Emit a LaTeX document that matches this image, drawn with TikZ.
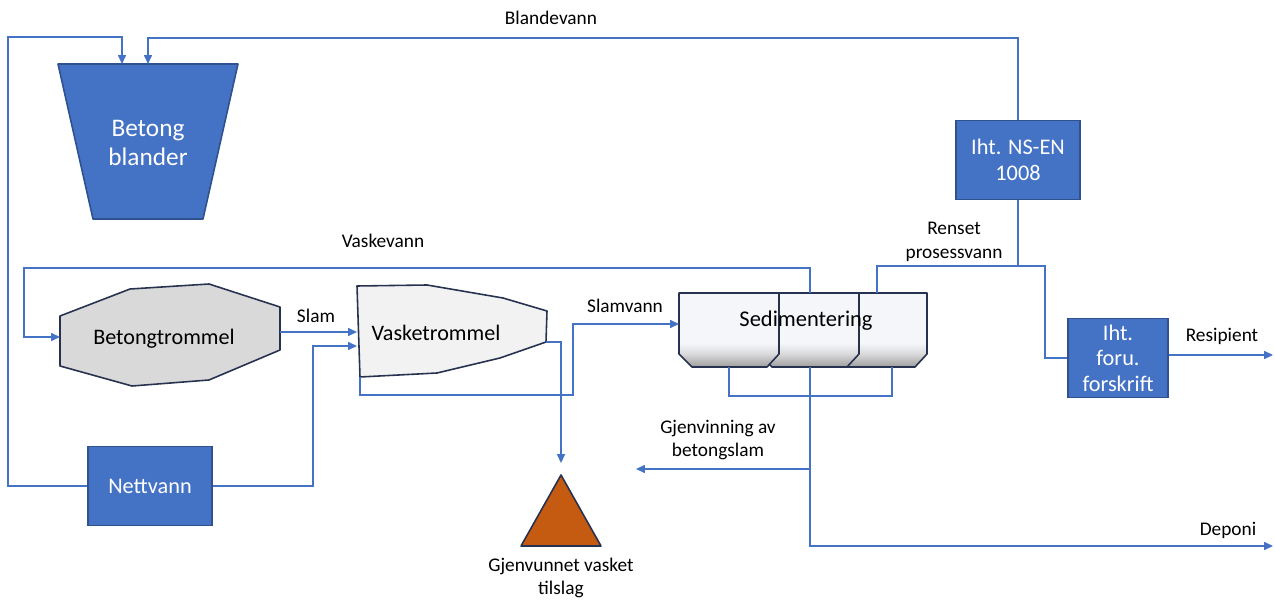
\documentclass[tikz,border=0pt]{standalone}
\usepackage{fontspec}
\setmainfont{Carlito}
\usetikzlibrary{arrows.meta}

\definecolor{flowblue}{HTML}{4472C4}
\definecolor{boxblue}{HTML}{4472C4}
\definecolor{edgeblue}{HTML}{2F528F}
\definecolor{darkedge}{HTML}{26324F}
\definecolor{drumgray}{HTML}{D9D9D9}
\definecolor{drumlight}{HTML}{F2F2F2}
\definecolor{rust}{HTML}{C55A11}
\definecolor{sedtop}{HTML}{F4F6FA}
\definecolor{sedmid}{HTML}{DADADC}
\definecolor{sedbot}{HTML}{9E9E9E}

% light tank with a grey band at the bottom
\pgfdeclareverticalshading{sedshade}{100bp}{color(0bp)=(sedbot); color(25bp)=(sedbot); color(34bp)=(sedmid); color(41bp)=(sedtop); color(100bp)=(sedtop)}

\tikzset{
  pipe/.style={draw=flowblue, line width=0.7pt},
  flow/.style={pipe, -{Triangle[length=5pt,width=4.5pt]}},
  bluebox/.style={draw=edgeblue, fill=boxblue, line width=0.9pt, text=white, align=center,
    inner sep=0pt, font=\fontsize{12.7}{14.6}\selectfont},
  lbl/.style={align=center, inner sep=0pt, font=\fontsize{11}{13.5}\selectfont},
  shapeline/.style={draw=darkedge, line width=0.9pt, line join=round},
}

\begin{document}
\begin{tikzpicture}[x=0.02cm, y=-0.02cm]
    \useasboundingbox (0,0) rectangle (1275,601);

    % Betong blander
    \draw[shapeline, draw=edgeblue, fill=boxblue] (58,64) -- (238,64) -- (203,219) -- (93,219) -- cycle;
    \node[text=white, align=center, inner sep=0pt, font=\fontsize{14.4}{17}\selectfont] (blander) at (148,143) {Betong\\blander};
    \coordinate (bl-in1) at (122,64);
    \coordinate (bl-in2) at (148,64);

    % Betongtrommel
    \draw[shapeline, fill=drumgray] (60,316) -- (130,289) -- (209,284) -- (280,307) -- (280,350) -- (209,380) -- (132,386) -- (60,366) -- cycle;
    \node[inner sep=0pt, font=\fontsize{12.6}{14}\selectfont] (btrommel) at (164,339) {Betongtrommel};
    \coordinate (bt-in) at (60,337);
    \coordinate (bt-out) at (280,332);

    % Vasketrommel
    \draw[shapeline, fill=drumlight] (357,286) -- (427,285) -- (503,298) -- (547,311) -- (546,342) -- (500,358) -- (437,373) -- (360,377) -- cycle;
    \node[inner sep=0pt, font=\fontsize{12.6}{14}\selectfont] (vtrommel) at (436,333) {Vasketrommel};
    \coordinate (vt-in1) at (357,332);
    \coordinate (vt-in2) at (357,346);
    \coordinate (vt-out) at (546,342);
    \coordinate (vt-bot) at (360,377);

    % Gjenvunnet tilslag
    \draw[shapeline, fill=rust] (561,475) -- (601,546) -- (521,546) -- cycle;
    \coordinate (tri-in) at (561,463);
    \node[lbl] (tilslag) at (561,578) {Gjenvunnet vasket\\tilslag};

    % Sedimentering, three tanks back to front
    \foreach \l in {827,759,679} {
      \draw[shapeline, shading=sedshade] (\l,293) -- ++(100,0) -- ++(0,61) -- ++(-12,13) -- ++(-75,0) -- ++(-13,-13) -- cycle;
    }
    \node[inner sep=0pt, font=\fontsize{12.8}{14}\selectfont] (sed) at (806,321) {Sedimentering};
    \coordinate (sed-in) at (679,324);
    \coordinate (s1-bot) at (729,367);
    \coordinate (s2-bot) at (810,367);
    \coordinate (s3-bot) at (892,367);
    \coordinate (s2-top) at (810,293);
    \coordinate (s3-top) at (877,293);

    % boxes
    \node[bluebox, minimum width=2.48cm, minimum height=1.58cm] (nett) at (150,486) {Nettvann};
    \node[bluebox, minimum width=2.48cm, minimum height=1.58cm] (nsen) at (1018,160) {Iht. NS-EN\\1008};
    \node[bluebox, minimum width=2cm, minimum height=1.58cm] (foru) at (1118,358) {Iht.\\foru.\\forskrift};

    % Nettvann to blander and vasketrommel
    \draw[flow] (nett.west) -| (8,37) -| (bl-in1);
    \draw[flow] (nett.east) -| (313,346) -- (vt-in2);

    % Blandevann
    \draw[flow] (nsen.north) |- (148,38) -- (bl-in2);
    \node[lbl] at (551,18) {Blandevann};

    % Vaskevann
    \draw[flow] (s2-top) |- (24,268) |- (bt-in);
    \node[lbl] at (383,241) {Vaskevann};

    % Slam
    \draw[flow] (bt-out) -- (vt-in1);
    \node[lbl] at (316,316) {Slam};

    % Slamvann
    \draw[flow] (vt-bot) |- (573,395) |- (sed-in);
    \node[lbl] at (625,306) {Slamvann};

    % tilslag out of vasketrommel
    \draw[flow] (vt-out) -| (tri-in);

    % Renset prosessvann
    \draw[pipe] (s3-top) |- (1045,266) |- (foru.west);
    \draw[pipe] (nsen.south) -- (1018,266);
    \node[lbl] at (954,242) {Renset\\prosessvann};

    % Resipient
    \draw[flow] (foru.east |- 0,355) -- (1273,355);
    \node[lbl] at (1222,336) {Resipient};

    % bottom of the tanks
    \draw[pipe] (s1-bot) -- (729,396) -| (s3-bot);
    \draw[pipe] (s2-bot) -- (810,396);
    \draw[flow] (810,396) |- (1273,546);
    \draw[flow] (810,469) -- (636,469);
    \node[lbl] at (718,440) {Gjenvinning av\\betongslam};
    \node[lbl] at (1228,530) {Deponi};
\end{tikzpicture}
\end{document}
